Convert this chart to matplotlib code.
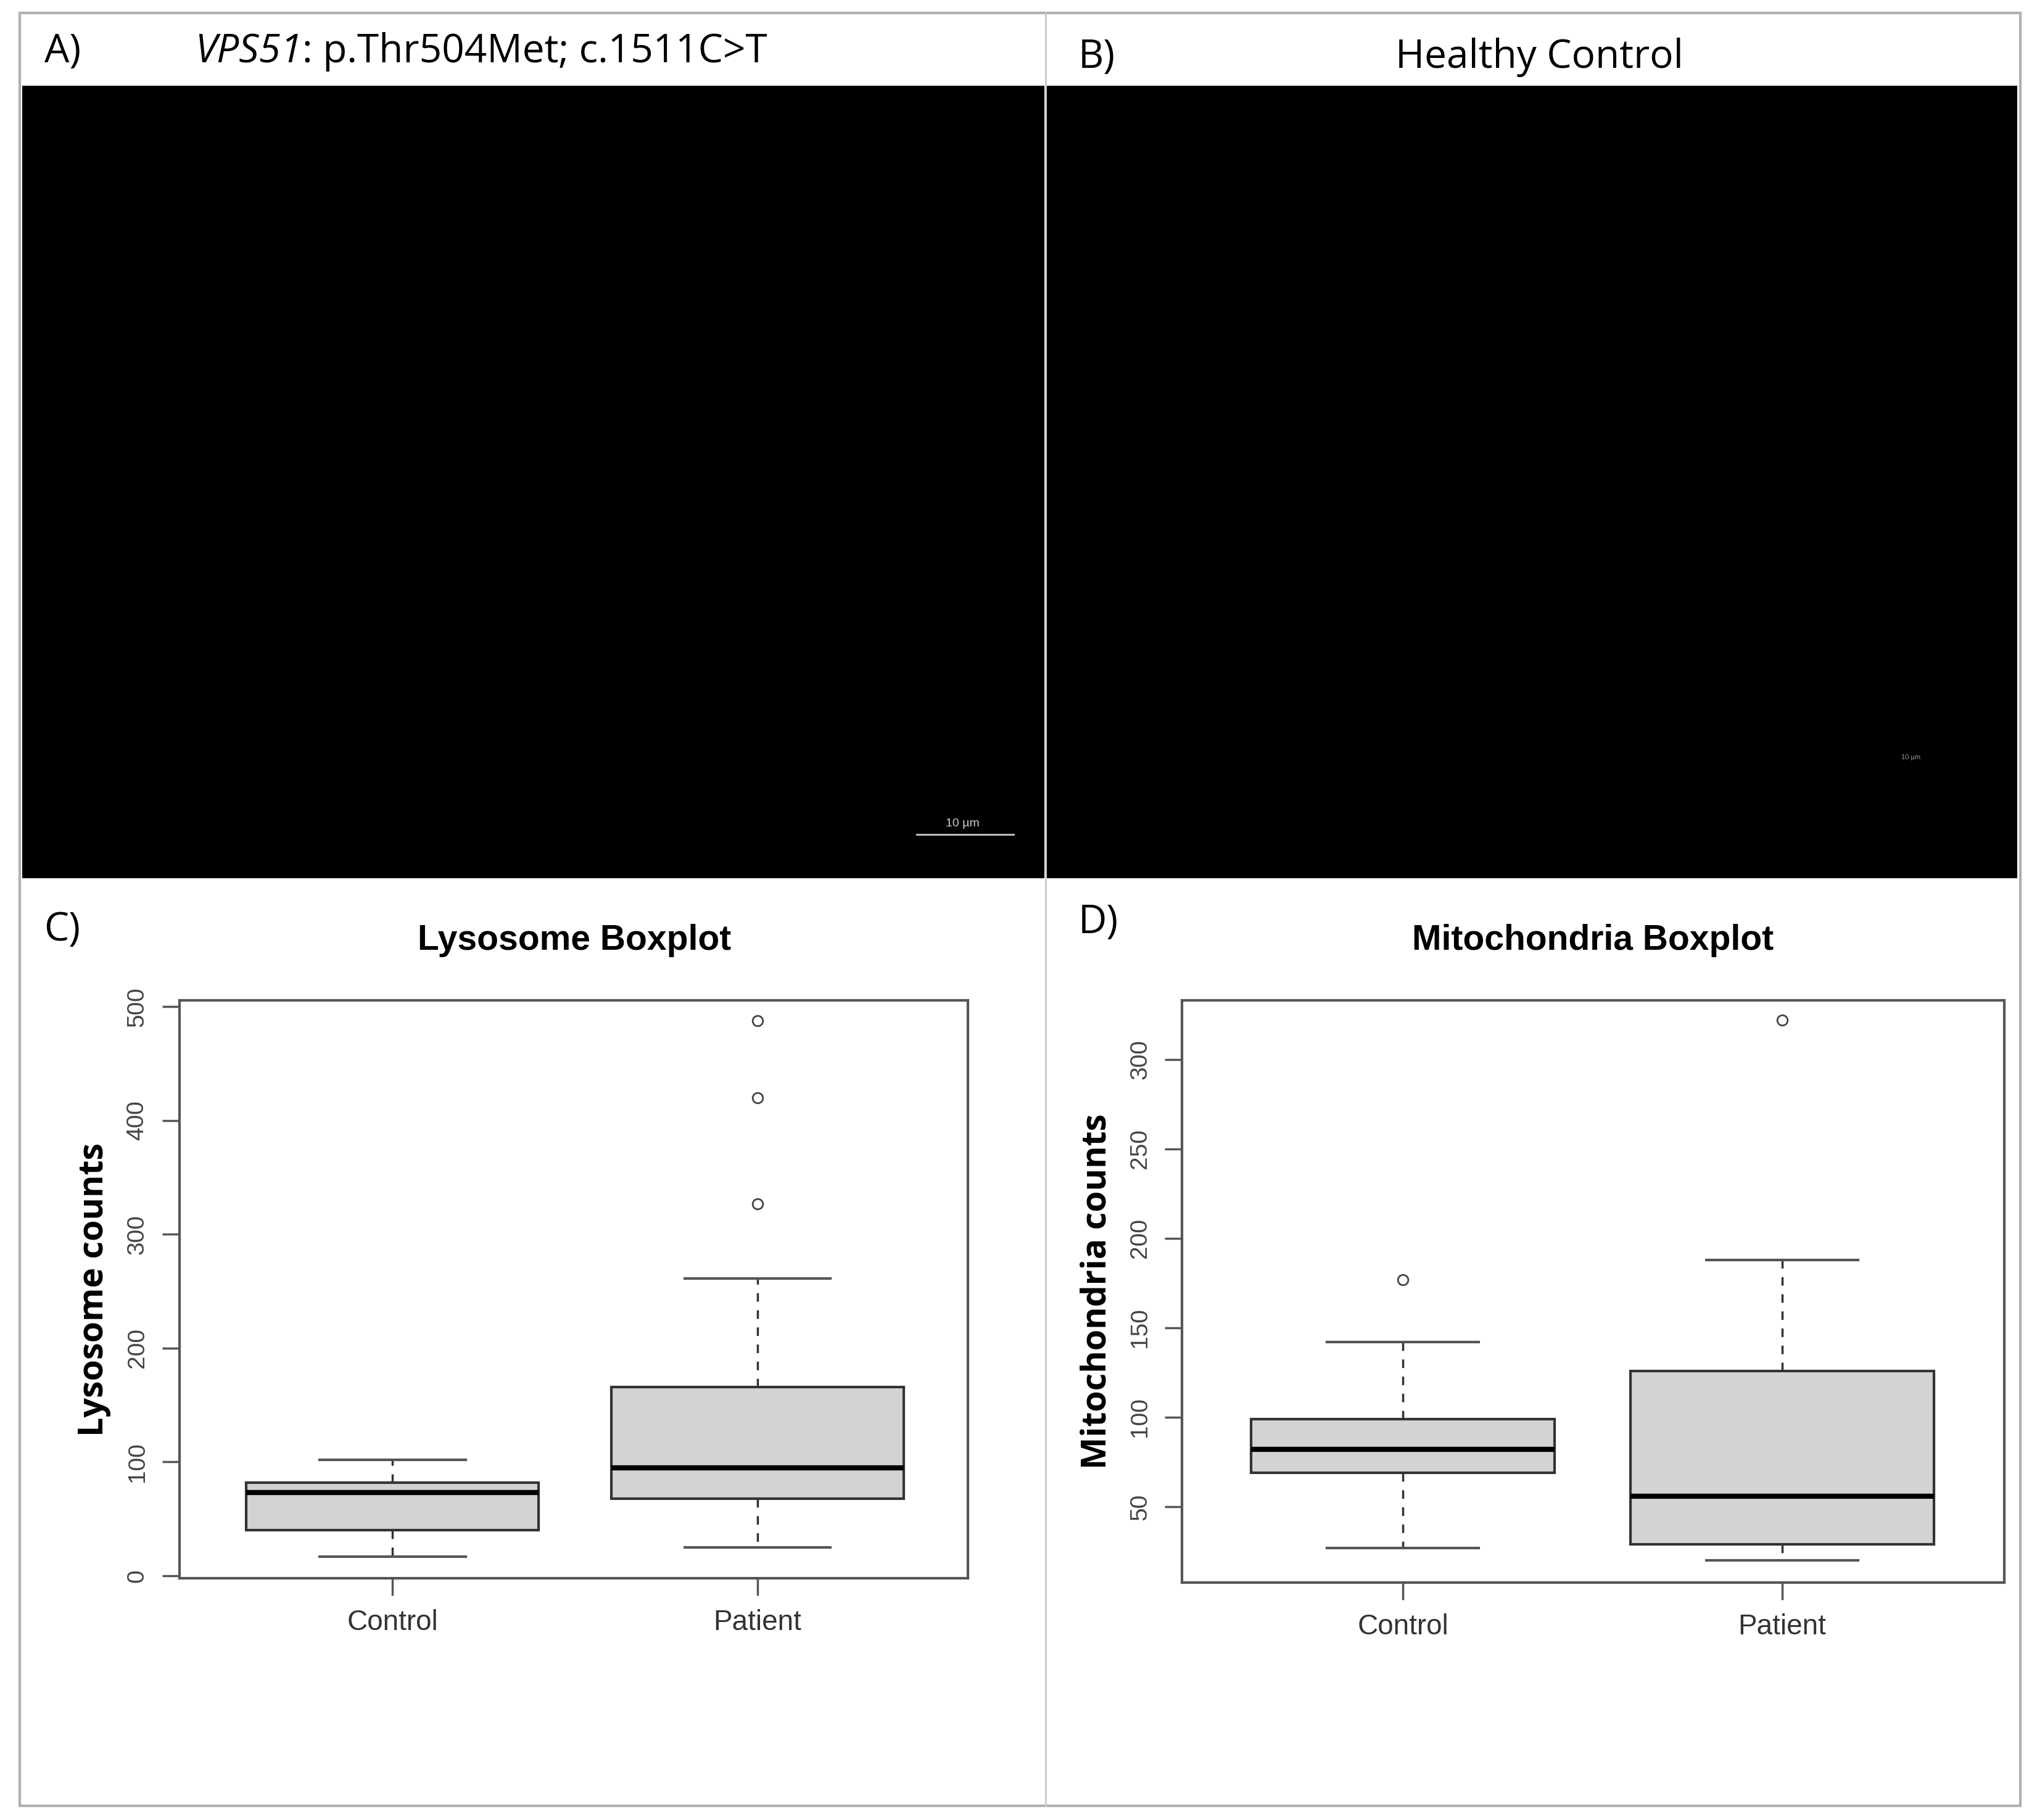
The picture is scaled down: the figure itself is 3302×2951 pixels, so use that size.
import matplotlib
matplotlib.use("Agg")
import matplotlib.pyplot as plt
from matplotlib.patches import Rectangle

groups = ["Control", "Patient"]
lyso_whislo = [17, 25]; lyso_q1 = [40, 68]; lyso_med = [73, 95]; lyso_q3 = [82, 166]; lyso_whishi = [102, 261]
lyso_fliers = [[], [327, 420, 488]]
mito_whislo = [27, 20]; mito_q1 = [69, 29]; mito_med = [82, 56]; mito_q3 = [99, 126]; mito_whishi = [142, 188]
mito_fliers = [[177], [322]]
lyso_ticks = [0, 100, 200, 300, 400, 500]
mito_ticks = [50, 100, 150, 200, 250, 300]

plt.rcParams['font.family'] = ['Liberation Sans', 'DejaVu Sans']
HEAD = ['Open Sans', 'DejaVu Sans']

W, H = 1568, 1401
fig = plt.figure(figsize=(33.02, 29.51), dpi=100)
fig.patch.set_facecolor("white")

def fx(x): return x / W
def fy(y): return 1 - y / H

fig.add_artist(Rectangle((fx(15), fy(1390)), fx(1555) - fx(15), fy(10) - fy(1390),
                         transform=fig.transFigure, fill=False, ec="#b0b0b0", lw=3))
fig.add_artist(plt.Line2D([fx(805), fx(805)], [fy(1390), fy(10)], transform=fig.transFigure, color="#c8c8c8", lw=2))

for x0, x1 in [(17, 804), (806, 1553)]:
    a = fig.add_axes([fx(x0), fy(676), fx(x1) - fx(x0), fy(66) - fy(676)])
    a.set_facecolor("black"); a.set_xticks([]); a.set_yticks([])
    for s in a.spines.values(): s.set_visible(False)
ax_a = fig.axes[-2]
ax_a.plot([0.875, 0.97], [0.055, 0.055], transform=ax_a.transAxes, color="#cccccc", lw=2)
ax_a.text(0.92, 0.062, "10 µm", transform=ax_a.transAxes, color="#cccccc", fontsize=14, ha="center", va="bottom")
ax_b = fig.axes[-1]
ax_b.text(0.89, 0.15, "10 µm", transform=ax_b.transAxes, color="#999999", fontsize=8, ha="center")

fs_head = 46
fig.text(fx(34), fy(40), "A)", fontsize=fs_head, va="center", family=HEAD)
t1 = fig.text(fx(150), fy(40), "VPS51", fontsize=fs_head, va="center", style="italic", family=HEAD)
fig.canvas.draw()
bb = t1.get_window_extent(fig.canvas.get_renderer())
fig.text(bb.x1 / fig.bbox.width, fy(40), ": p.Thr504Met; c.1511C>T", fontsize=fs_head, va="center", family=HEAD)
fig.text(fx(830), fy(44), "B)", fontsize=fs_head, va="center", family=HEAD)
fig.text(fx(1185), fy(44), "Healthy Control", fontsize=fs_head, va="center", ha="center", family=HEAD)
fig.text(fx(34), fy(716), "C)", fontsize=fs_head, va="center", family=HEAD)
fig.text(fx(830), fy(710), "D)", fontsize=fs_head, va="center", family=HEAD)

def box(rect, title, ylabel, whislo, q1, med, q3, whishi, fliers, ticks, ylim, xlim, tx):
    ax = fig.add_axes([fx(rect[0]), fy(rect[3]), fx(rect[2]) - fx(rect[0]), fy(rect[1]) - fy(rect[3])])
    stats = [dict(whislo=whislo[i], q1=q1[i], med=med[i], q3=q3[i], whishi=whishi[i], fliers=fliers[i], label=groups[i])
             for i in range(len(groups))]
    ax.bxp(stats, positions=[1, 2], widths=0.8, patch_artist=True,
           boxprops=dict(facecolor="#d3d3d3", edgecolor="#333333", lw=3),
           medianprops=dict(color="black", lw=6),
           whiskerprops=dict(color="#333333", lw=2.5, ls=(0, (4, 4))),
           capprops=dict(color="#555555", lw=3),
           flierprops=dict(marker="o", markerfacecolor="none", markeredgecolor="#444444", markersize=12, mew=2),
           capwidths=0.4)
    ax.set_ylim(*ylim); ax.set_xlim(*xlim)
    ax.set_yticks(ticks)
    ax.set_yticklabels([str(t) for t in ticks], rotation=90, va="center", fontsize=28, color="#444444")
    ax.set_xticks([1, 2]); ax.set_xticklabels(groups, fontsize=33, color="#333333")
    ax.tick_params(length=20, width=2.5, color="#555555", pad=16)
    for s in ax.spines.values(): s.set_linewidth(3); s.set_color("#555555")
    ax.set_ylabel(ylabel, fontsize=40, fontweight="bold", labelpad=18, family=HEAD)
    fig.text(fx(tx), fy(724), title, fontsize=41, fontweight="bold", ha="center", va="center")
    return ax

box((138, 770, 745, 1215), "Lysosome Boxplot", "Lysosome counts", lyso_whislo, lyso_q1, lyso_med, lyso_q3,
    lyso_whishi, lyso_fliers, lyso_ticks, (-2.3, 505.7), (0.416, 2.576), 442)
box((910, 770, 1543, 1218), "Mitochondria Boxplot", "Mitochondria counts", mito_whislo, mito_q1, mito_med, mito_q3,
    mito_whishi, mito_fliers, mito_ticks, (7.8, 333), (0.418, 2.586), 1226)

fig.savefig("out.png", dpi=100)
